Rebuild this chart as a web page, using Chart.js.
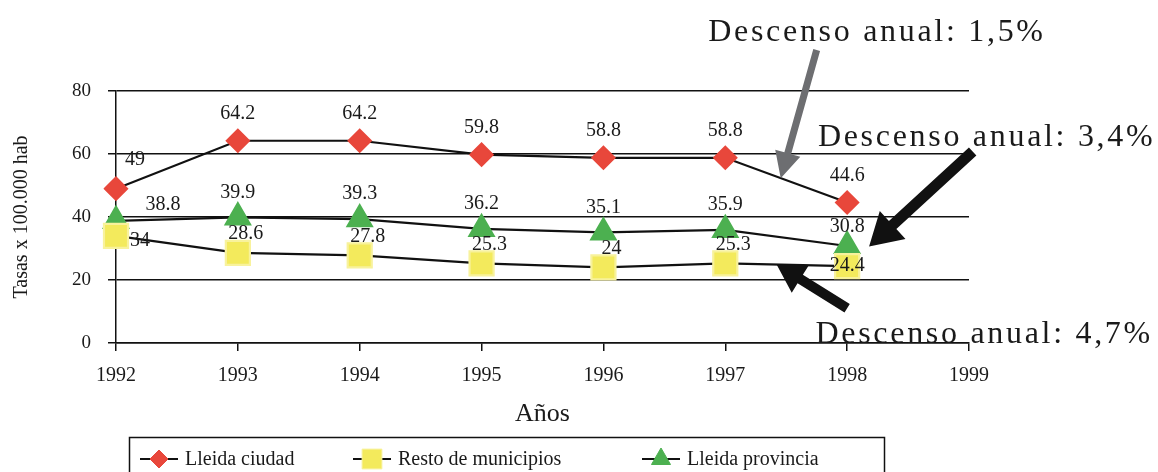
<!DOCTYPE html>
<html>
<head>
<meta charset="utf-8">
<script src="https://cdn.jsdelivr.net/npm/chart.js@4/dist/chart.umd.min.js"></script>
<style>
  body { margin: 0; background: #fff; }
  canvas { display: block; }
</style>
</head>
<body>
<canvas id="chart" width="1158" height="472"></canvas>
<script>
const years = ["1992", "1993", "1994", "1995", "1996", "1997", "1998", "1999"];
const ciudad = [49, 64.2, 64.2, 59.8, 58.8, 58.8, 44.6, null];
const resto = [34, 28.6, 27.8, 25.3, 24, 25.3, 24.4, null];
const provincia = [38.8, 39.9, 39.3, 36.2, 35.1, 35.9, 30.8, null];
const yTicks = [0, 20, 40, 60, 80];

const serif = "'Liberation Serif', 'DejaVu Serif', serif";

// annotation texts and arrows, in (category index, value) coords
const notes = [
  { text: "Descenso anual: 1,5%", at: [4.86, 95.9] },
  { text: "Descenso anual: 3,4%", at: [5.76, 62.5] },
  { text: "Descenso anual: 4,7%", at: [5.74, 0.1] },
];
const arrows = [
  { from: [5.75, 93], to: [5.455, 52.3], color: "#6d6e71", w: 7, head: 26, headW: 26 },
  { from: [7.03, 60.8], to: [6.18, 30.6], color: "#111", w: 11, head: 32, headW: 38 },
  { from: [6.0, 11.0], to: [5.42, 25.0], color: "#111", w: 10, head: 28, headW: 32 },
];

// label offsets per dataset (px), with odd points handled apart
const labelPos = [
  { dx: 0, dy: -27, first: [19, -29] },
  { dx: 8, dy: -19, first: [24, 5], last: [0, 0] },
  { dx: 0, dy: -25, first: [47, -16], last: [0, -19] },
];

function drawMarker(ctx, style, x, y, r, fill, stroke) {
  ctx.save();
  ctx.fillStyle = fill;
  ctx.strokeStyle = stroke;
  ctx.lineWidth = 1;
  ctx.beginPath();
  if (style === "rectRot") {
    ctx.moveTo(x, y - r);
    ctx.lineTo(x + r, y);
    ctx.lineTo(x, y + r);
    ctx.lineTo(x - r, y);
  } else if (style === "rect") {
    const s = r * Math.SQRT1_2;
    ctx.rect(x - s, y - s, 2 * s, 2 * s);
  } else {
    ctx.moveTo(x, y - r);
    ctx.lineTo(x + r * 0.866, y + r / 2);
    ctx.lineTo(x - r * 0.866, y + r / 2);
  }
  ctx.closePath();
  ctx.fill();
  ctx.stroke();
  ctx.restore();
}

function drawArrow(ctx, x1, y1, x2, y2, a) {
  const ang = Math.atan2(y2 - y1, x2 - x1);
  const len = Math.hypot(x2 - x1, y2 - y1);
  ctx.save();
  ctx.translate(x1, y1);
  ctx.rotate(ang);
  ctx.fillStyle = a.color;
  ctx.beginPath();
  ctx.moveTo(0, -a.w / 2);
  ctx.lineTo(len - a.head, -a.w / 2);
  ctx.lineTo(len - a.head, -a.headW / 2);
  ctx.lineTo(len, 0);
  ctx.lineTo(len - a.head, a.headW / 2);
  ctx.lineTo(len - a.head, a.w / 2);
  ctx.lineTo(0, a.w / 2);
  ctx.closePath();
  ctx.fill();
  ctx.restore();
}

const labelsPlugin = {
  id: "pointLabels",
  afterDatasetsDraw(chart) {
    const ctx = chart.ctx;
    ctx.save();
    ctx.font = "20px " + serif;
    ctx.fillStyle = "#1a1a1a";
    ctx.textAlign = "center";
    ctx.textBaseline = "middle";
    chart.data.datasets.forEach((ds, i) => {
      const meta = chart.getDatasetMeta(i);
      const pos = labelPos[i];
      const n = ds.data.filter((v) => v !== null).length;
      meta.data.forEach((pt, j) => {
        const v = ds.data[j];
        if (v === null) return;
        let off = [pos.dx, pos.dy];
        if (j === 0 && pos.first) off = pos.first;
        if (j === n - 1 && pos.last) off = pos.last;
        ctx.fillText(String(v), pt.x + off[0], pt.y + off[1]);
      });
    });
    ctx.restore();
  },
};

const notesPlugin = {
  id: "notes",
  afterDraw(chart) {
    const ctx = chart.ctx;
    const xs = chart.scales.x;
    const ys = chart.scales.y;
    arrows.forEach((a) => {
      drawArrow(
        ctx,
        xs.getPixelForValue(a.from[0]), ys.getPixelForValue(a.from[1]),
        xs.getPixelForValue(a.to[0]), ys.getPixelForValue(a.to[1]),
        a
      );
    });
    ctx.save();
    ctx.font = "32px " + serif;
    ctx.letterSpacing = "2.7px";
    ctx.fillStyle = "#1a1a1a";
    ctx.textAlign = "left";
    ctx.textBaseline = "alphabetic";
    notes.forEach((n) => {
      ctx.fillText(n.text, xs.getPixelForValue(n.at[0]), ys.getPixelForValue(n.at[1]));
    });
    ctx.restore();

    // legend box at the bottom
    ctx.save();
    ctx.strokeStyle = "#111";
    ctx.lineWidth = 1.5;
    ctx.strokeRect(129.5, 437.5, 755, 60);
    const starts = [140, 353, 642];
    const sizes = [9, 14, 11];
    ctx.font = "20px " + serif;
    ctx.fillStyle = "#1a1a1a";
    ctx.textBaseline = "middle";
    chart.data.datasets.forEach((ds, i) => {
      const x0 = starts[i];
      const y0 = 459;
      ctx.strokeStyle = "#111";
      ctx.lineWidth = 2;
      ctx.beginPath();
      ctx.moveTo(x0, y0);
      ctx.lineTo(x0 + 38, y0);
      ctx.stroke();
      drawMarker(ctx, ds.pointStyle, x0 + 19, y0, sizes[i], ds.pointBackgroundColor, ds.pointBorderColor);
      ctx.fillStyle = "#1a1a1a";
      ctx.fillText(ds.label, x0 + 45, y0 + 1);
    });
    ctx.restore();
  },
};

const config = {
  type: "line",
  data: {
    labels: years,
    datasets: [
      {
        label: "Lleida ciudad",
        data: ciudad,
        borderColor: "#111",
        borderWidth: 2.2,
        pointStyle: "rectRot",
        pointRadius: 11,
        pointBackgroundColor: "#e8473b",
        pointBorderColor: "#e8473b",
        clip: false,
      },
      {
        label: "Resto de municipios",
        data: resto,
        borderColor: "#111",
        borderWidth: 2.2,
        pointStyle: "rect",
        pointRadius: 17,
        pointBackgroundColor: "#f3ea5c",
        pointBorderColor: "#f8f29c",
        clip: false,
      },
      {
        label: "Lleida provincia",
        data: provincia,
        borderColor: "#111",
        borderWidth: 2.2,
        pointStyle: "triangle",
        pointRadius: 14,
        pointBackgroundColor: "#4cb050",
        pointBorderColor: "#4cb050",
        clip: false,
      },
    ],
  },
  plugins: [labelsPlugin, notesPlugin],
  options: {
    responsive: false,
    animation: false,
    events: [],
    layout: {
      padding: { left: 0, right: 189, top: 91, bottom: 0 },
    },
    scales: {
      x: {
        type: "category",
        offset: false,
        afterFit(scale) {
          scale.height = 129;
        },
        grid: {
          drawOnChartArea: false,
          drawTicks: true,
          tickLength: 8,
          color: "#111",
          lineWidth: 1.5,
        },
        border: { color: "#111", width: 1.5 },
        ticks: {
          color: "#1a1a1a",
          font: { family: serif, size: 20 },
          padding: 13,
          maxRotation: 0,
        },
        title: {
          display: true,
          text: "Años",
          color: "#1a1a1a",
          font: { family: serif, size: 26 },
          padding: { top: 42, bottom: 42 },
        },
      },
      y: {
        min: 0,
        max: 80,
        afterFit(scale) {
          scale.width = 116;
        },
        afterBuildTicks(scale) {
          scale.ticks = yTicks.map((v) => ({ value: v }));
        },
        grid: {
          color: "#111",
          lineWidth: 1.5,
          tickLength: 8,
        },
        border: { color: "#111", width: 1.5 },
        ticks: {
          color: "#1a1a1a",
          font: { family: serif, size: 19 },
          padding: 17,
        },
        title: {
          display: true,
          text: "Tasas x 100.000 hab",
          color: "#1a1a1a",
          font: { family: serif, size: 20 },
          padding: { top: 10, bottom: 0 },
        },
      },
    },
    plugins: {
      legend: { display: false },
      tooltip: { enabled: false },
    },
  },
};

new Chart(document.getElementById("chart"), config);
</script>
</body>
</html>
